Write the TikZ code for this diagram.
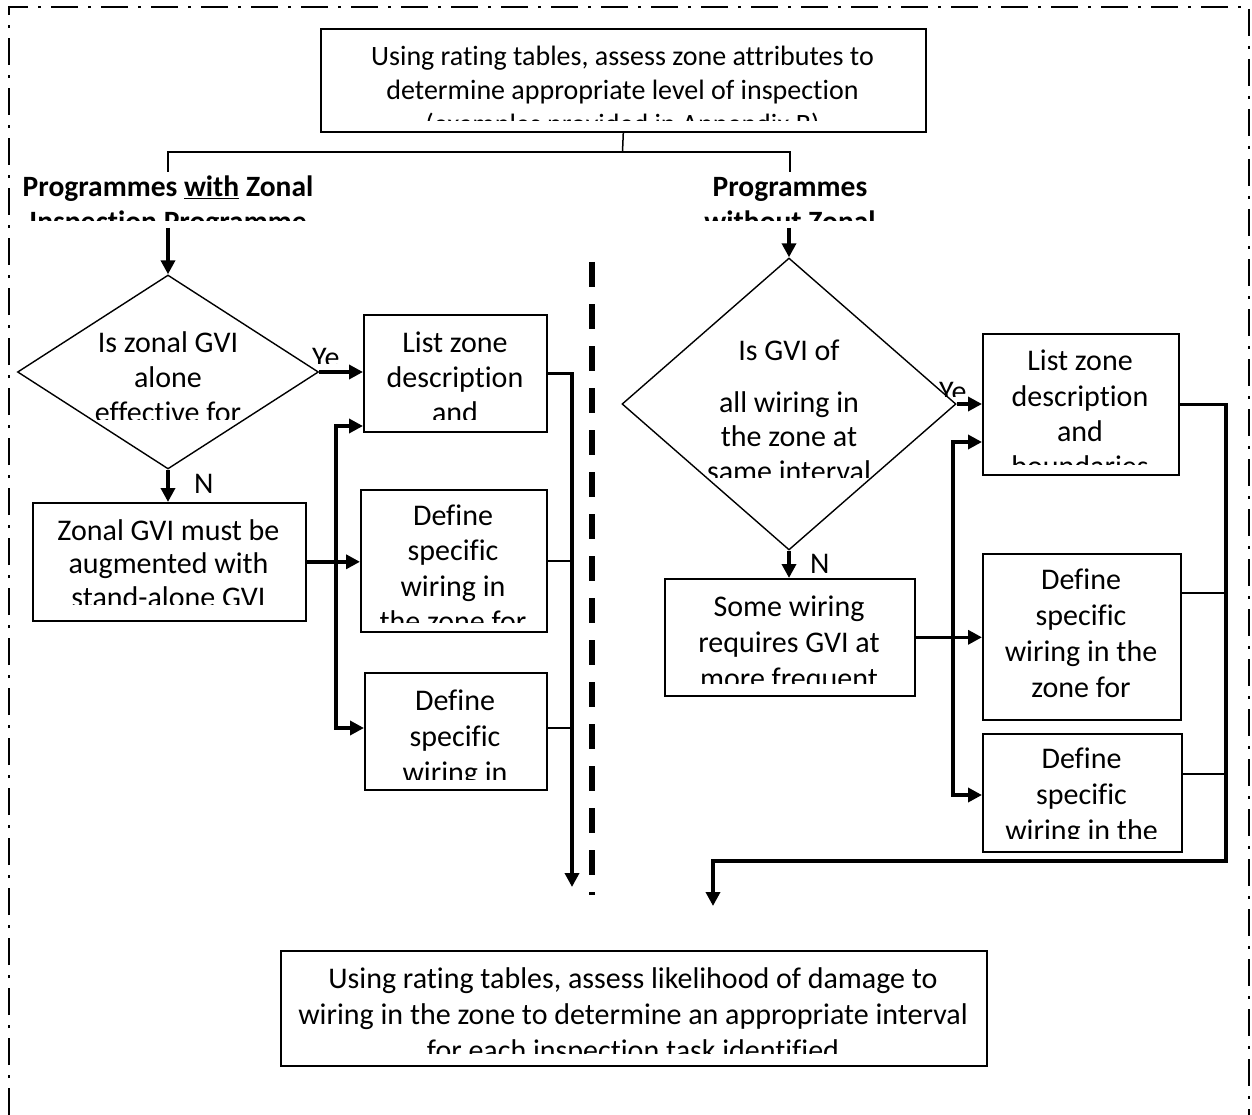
\documentclass[tikz,border=0pt]{standalone}
\usepackage{fontspec}
\setmainfont{Carlito}[Ligatures=NoCommon]
\usetikzlibrary{shapes.geometric,arrows.meta,calc}
\newcommand{\tline}[4]{\node[tl] (#1) at (#2,#3) {#4};}
\begin{document}
\begin{tikzpicture}[x=1pt,y=-1pt,
  box/.style={draw, line width=1.6pt, rectangle, inner sep=0pt, anchor=north west},
  dia/.style={draw, line width=1.4pt, diamond, inner sep=0pt},
  tl/.style={anchor=base, inner sep=0pt, font=\fontsize{30}{36}\selectfont},
  tltop/.style={tl, font=\fontsize{28}{34}\selectfont},
  hd/.style={anchor=base, inner sep=0pt, font=\fontsize{29.5}{35}\selectfont\bfseries},
  arr/.style={line width=3.5pt, -{Triangle[length=14pt,width=14pt]}},
  thn/.style={line width=1.5pt},
  frame/.style={line width=2.5pt, dash pattern=on 27pt off 10pt on 3pt off 10pt},
  mid/.style={line width=5.5pt, dash pattern=on 25pt off 17pt},
]
\useasboundingbox[fill=white] (0,0) rectangle (1252,1115);

% outer frame
\coordinate (f1) at (9,1115);
\coordinate (f2) at (9,7);
\coordinate (f3) at (1249,7);
\coordinate (f4) at (1249,1115);
\draw[frame] (f1) -- (f2) -- (f3) -- (f4);

% middle separator
\coordinate (m1) at (592,262);
\coordinate (m2) at (592,895);
\draw[mid] (m1) -- (m2);

% boxes
\node[box, minimum width=605pt, minimum height=103pt] (top) at (320,28) {};
\node[box, minimum width=183pt, minimum height=117pt] (llist) at (363,314) {};
\node[box, minimum width=273pt, minimum height=118pt] (lzonal) at (32,502) {};
\node[box, minimum width=186pt, minimum height=142pt] (ldef1) at (360,489) {};
\node[box, minimum width=182pt, minimum height=117pt] (ldef2) at (364,672) {};
\node[box, minimum width=196pt, minimum height=141pt] (rlist) at (982,333) {};
\node[box, minimum width=250pt, minimum height=117pt] (rsome) at (664,578) {};
\node[box, minimum width=198pt, minimum height=166pt] (rdef1) at (982,553) {};
\node[box, minimum width=199pt, minimum height=118pt] (rdef2) at (982,733) {};
\node[box, minimum width=706pt, minimum height=115pt] (bot) at (280,950) {};

% diamonds
\node[dia, minimum width=301pt, minimum height=194pt] (ldia) at (168,372) {};
\node[dia, minimum width=334pt, minimum height=292pt] (rdia) at (789,404) {};

% texts
\begin{scope}
\clip (320,28) rectangle (925,121);
\node[tltop] (t1) at (622.5,66) {Using rating tables, assess zone attributes to};
\node[tltop] (t2) at (622.5,100) {determine appropriate level of inspection};
\node[tltop] (t3) at (622.5,134) {(examples provided in Appendix B)};
\end{scope}

\node[hd] (h1) at (168,197) {Programmes \underline{with} Zonal};
\node[hd] (h3) at (790,197) {Programmes};
\begin{scope}
\clip (0,160) rectangle (1000,221);
\node[hd] (h2) at (168,232) {Inspection Programme};
\node[hd] (h4) at (790,232) {without Zonal};
\end{scope}

\begin{scope}
\clip (0,300) rectangle (330,419);
\tline{ld1}{168}{352}{Is zonal GVI}
\tline{ld2}{168}{387}{alone}
\tline{ld3}{168}{422}{effective for}
\end{scope}

\begin{scope}
\clip (363,314) rectangle (546,419);
\tline{ll1}{455}{352}{List zone}
\tline{ll2}{455}{387}{description}
\tline{ll3}{455}{422}{and}
\end{scope}

\begin{scope}
\clip (32,502) rectangle (305,604);
\tline{lz1}{168.5}{540}{Zonal GVI must be}
\tline{lz2}{168.5}{573.5}{augmented with}
\tline{lz3}{168.5}{607}{stand-alone GVI}
\end{scope}

\begin{scope}
\clip (360,489) rectangle (546,622);
\tline{la1}{453}{525}{Define}
\tline{la2}{453}{560.5}{specific}
\tline{la3}{453}{596}{wiring in}
\tline{la4}{453}{631.5}{the zone for}
\end{scope}

\begin{scope}
\clip (364,672) rectangle (546,779);
\tline{lb1}{455}{710}{Define}
\tline{lb2}{455}{746}{specific}
\tline{lb3}{455}{782}{wiring in}
\end{scope}

\begin{scope}
\clip (600,250) rectangle (980,477);
\tline{rd1}{789}{360}{Is GVI of}
\tline{rd2}{789}{412}{all wiring in}
\tline{rd3}{789}{446}{the zone at}
\tline{rd4}{789}{481}{same interval}
\end{scope}

\begin{scope}
\clip (982,333) rectangle (1178,464);
\tline{rl1}{1080}{370}{List zone}
\tline{rl2}{1080}{406}{description}
\tline{rl3}{1080}{441}{and}
\tline{rl4}{1080}{476}{boundaries}
\end{scope}

\begin{scope}
\clip (664,578) rectangle (914,683);
\tline{rs1}{789}{616}{Some wiring}
\tline{rs2}{789}{652}{requires GVI at}
\tline{rs3}{789}{688}{more frequent}
\end{scope}

\begin{scope}
\clip (982,553) rectangle (1180,712);
\tline{ra1}{1081}{589}{Define}
\tline{ra2}{1081}{625}{specific}
\tline{ra3}{1081}{661}{wiring in the}
\tline{ra4}{1081}{697}{zone for}
\end{scope}

\begin{scope}
\clip (982,733) rectangle (1181,838);
\tline{rb1}{1081.5}{768}{Define}
\tline{rb2}{1081.5}{804}{specific}
\tline{rb3}{1081.5}{840}{wiring in the}
\end{scope}

\begin{scope}
\clip (280,950) rectangle (986,1053);
\tline{b1}{633}{988}{Using rating tables, assess likelihood of damage to}
\tline{b2}{633}{1024}{wiring in the zone to determine an appropriate interval}
\tline{b3}{633}{1060}{for each inspection task identified}
\end{scope}

% labels
\begin{scope}
\clip (300,340) rectangle (338,363);
\node[tl, anchor=base west] (ye1) at (312,367) {Yes};
\end{scope}
\node[tl, anchor=base west] (n1) at (194,493) {N};
\begin{scope}
\clip (930,375) rectangle (966,396);
\node[tl, anchor=base west] (ye2) at (939,401) {Yes};
\end{scope}
\node[tl, anchor=base west] (n2) at (810,573) {N};

% top bracket
\coordinate (jn) at (622.5,152);
\coordinate (bl) at (168,172);
\coordinate (br) at (790,172);
\draw[thn] (top.south) -- (jn);
\draw[thn] (bl) -- (bl |- jn) -- (br |- jn) -- (br);

% left branch
\coordinate (ls) at (168,228);
\draw[arr] (ls) -- (ldia.north);
\draw[arr] (ldia.east) -- (ldia.east -| llist.west);
\draw[arr] (ldia.south) -- (ldia.south |- lzonal.north);
\draw[arr] (lzonal.east) -- (lzonal.east -| ldef1.west);
\coordinate (lvt) at (336,426);
\coordinate (lvb) at (336,728);
\draw[arr] (lvb) -- (lvt) -- (lvt -| llist.west);
\draw[arr] (lvt) -- (lvb) -- (lvb -| ldef2.west);
\coordinate (lend) at (572,887);
\draw[arr] (llist.east) -| (lend);
\draw[thn] (ldef1.east) -- (ldef1.east -| lend);
\draw[thn] (lvb -| ldef2.east) -- (lvb -| lend);

% right branch
\coordinate (rs) at (789,228);
\draw[arr] (rs) -- (rdia.north);
\draw[arr] (rdia.east) -- (rdia.east -| rlist.west);
\draw[arr] (rdia.south) -- (rdia.south |- rsome.north);
\draw[arr] (rsome.east) -- (rsome.east -| rdef1.west);
\coordinate (rvt) at (953,442);
\coordinate (rvb) at (953,795);
\draw[arr] (rvb) -- (rvt) -- (rvt -| rlist.west);
\draw[arr] (rvt) -- (rvb) -- (rvb -| rdef2.west);
\coordinate (rc) at (1226,861);
\coordinate (rend) at (713,906);
\draw[arr] (rlist.east) -| (rc) -| (rend);
\coordinate (rj1) at (1226,593);
\coordinate (rj2) at (1226,774);
\draw[thn] (rj1 -| rdef1.east) -- (rj1);
\draw[thn] (rj2 -| rdef2.east) -- (rj2);
\end{tikzpicture}
\end{document}
